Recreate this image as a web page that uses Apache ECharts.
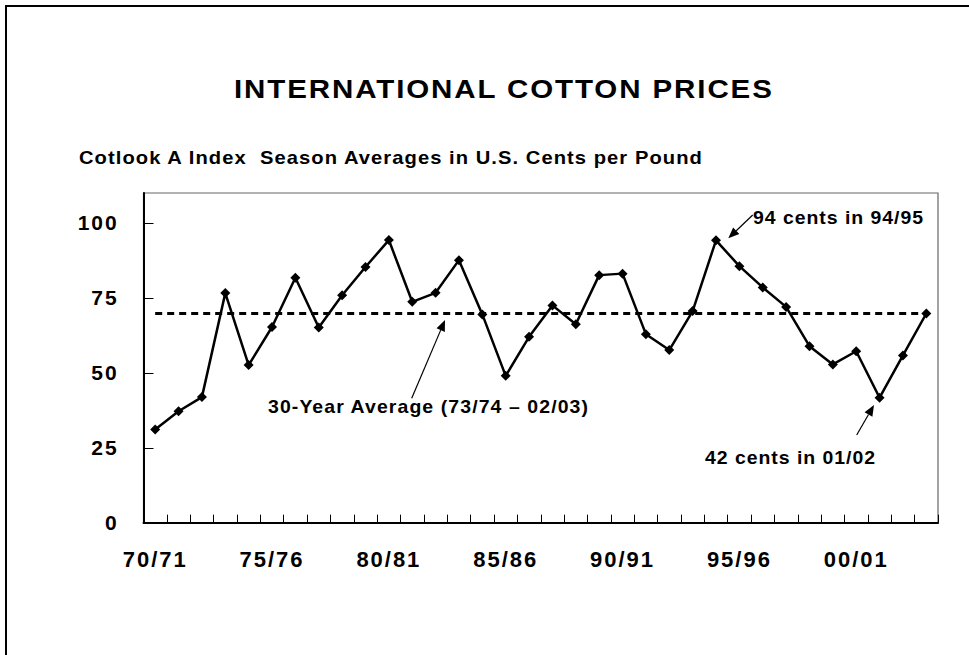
<!DOCTYPE html>
<html><head><meta charset="utf-8">
<script src="https://cdn.jsdelivr.net/npm/echarts@6/dist/echarts.min.js"></script>
<style>html,body{margin:0;padding:0;background:#fff}#c{width:969px;height:655px}</style>
</head><body><div id="c"></div>
<script>
const categories = ['70/71','71/72','72/73','73/74','74/75','75/76','76/77','77/78','78/79','79/80',
  '80/81','81/82','82/83','83/84','84/85','85/86','86/87','87/88','88/89','89/90',
  '90/91','91/92','92/93','93/94','94/95','95/96','96/97','97/98','98/99','99/00',
  '00/01','01/02','02/03','03/04'];
const prices = [31.1,37.2,41.9,76.6,52.6,65.3,81.7,65.1,75.9,85.3,
  94.3,73.7,76.7,87.6,69.5,49.0,62.0,72.5,66.2,82.6,
  83.1,62.9,57.6,70.6,94.2,85.6,78.5,72.0,58.9,52.8,
  57.2,41.7,55.8,69.8];
const average = 69.8;
const yTicks = [0,25,50,75,100];
const titleText = 'INTERNATIONAL COTTON PRICES';
const subtitleText = 'Cotlook A Index  Season Averages in U.S. Cents per Pound';
const avgLabel = '30-Year Average (73/74 \u2013 02/03)';
const highLabel = '94 cents in 94/95';
const lowLabel = '42 cents in 01/02';

const FONT = '"Liberation Sans", Arial, Helvetica, sans-serif';

// text -> [fontSize, scaleX, target ink width]
const textFit = {};
textFit[titleText] = [25, 1.18, 538];
textFit[subtitleText] = [18, 1.12, 623];
textFit[avgLabel] = [18, 1.08, 320];
textFit[highLabel] = [18, 1.08, 170];
textFit[lowLabel] = [18, 1.08, 170];

function arrow(x1,y1,x2,y2){
  const a = Math.atan2(y2-y1,x2-x1);
  const L = 11, W = 4.5;
  const bx = x2 - L*Math.cos(a), by = y2 - L*Math.sin(a);
  const px = -Math.sin(a)*W, py = Math.cos(a)*W;
  return [
    {type:'line', shape:{x1:x1,y1:y1,x2:bx,y2:by}, style:{stroke:'#000',lineWidth:1.2}, z:50},
    {type:'polygon', shape:{points:[[x2,y2],[bx+px,by+py],[bx-px,by-py]]}, style:{fill:'#000'}, z:50}
  ];
}
function txt(t, x, y){
  const f = textFit[t];
  return {type:'text', x:x, y:y, z:50, scaleX:f[1], style:{text:t, font:'bold '+f[0]+'px '+FONT, fill:'#000',
    align:'left', verticalAlign:'middle', textAlign:'left', textVerticalAlign:'middle'}};
}

const chart = echarts.init(document.getElementById('c'), null, {renderer:'svg'});
chart.setOption({
  animation:false,
  backgroundColor:'#fff',
  grid:{left:143.5, right:31, top:193, bottom:132.3, show:true, borderColor:'#666', borderWidth:1.2},
  xAxis:{type:'category', data:categories, boundaryGap:true,
    axisLine:{lineStyle:{color:'#000', width:2}},
    axisTick:{show:true, inside:true, length:8, interval:0, lineStyle:{color:'#000', width:1}},
    axisLabel:{interval:4, margin:26, color:'#000', fontSize:22, fontWeight:'bold', fontFamily:FONT},
    splitLine:{show:false}},
  yAxis:{type:'value', min:0, max:110,
    axisLine:{show:true, lineStyle:{color:'#000', width:2}},
    axisTick:{show:true, inside:true, length:10, customValues:yTicks, lineStyle:{color:'#000', width:1}},
    axisLabel:{customValues:yTicks, margin:25, color:'#000', fontSize:21, fontWeight:'bold', fontFamily:FONT},
    splitLine:{show:false}},
  series:[{
    type:'line', data:prices, z:10,
    symbol:'diamond', symbolSize:10,
    itemStyle:{color:'#000'},
    lineStyle:{color:'#000', width:2.5},
    markLine:{silent:true, symbol:['none','none'], z:5,
      label:{show:false},
      lineStyle:{color:'#000', width:3, type:[7,5]},
      data:[[{xAxis:categories[0], yAxis:average},{xAxis:categories[categories.length-1], yAxis:average}]]}
  }],
  graphic:[
    {type:'rect', shape:{x:6, y:6, width:1200, height:1200}, style:{fill:'none', stroke:'#000', lineWidth:2}, z:60},
    txt(titleText, 234, 89),
    txt(subtitleText, 79, 158),
    txt(avgLabel, 268, 407),
    txt(highLabel, 753, 218),
    txt(lowLabel, 705, 458)
  ].concat(arrow(411.7,398.3,445,320), arrow(752.7,215,728.3,238.3), arrow(856.7,435,874,405))
});

function spaceText(){
  document.querySelectorAll('#c svg text').forEach(function(t){
    const s = t.textContent;
    const fs = parseFloat(getComputedStyle(t).fontSize) || 16;
    const f = textFit[s];
    if (f) {
      t.removeAttribute('letter-spacing');
      const len = t.getComputedTextLength();
      const ls = (f[2]/f[1] - len) / Math.max(1, s.length - 1);
      t.setAttribute('letter-spacing', ls.toFixed(2)+'px');
    } else {
      t.setAttribute('letter-spacing', (fs*0.09).toFixed(2)+'px');
    }
  });
}
spaceText();
chart.on('finished', spaceText);
setTimeout(spaceText, 50);
</script></body></html>
